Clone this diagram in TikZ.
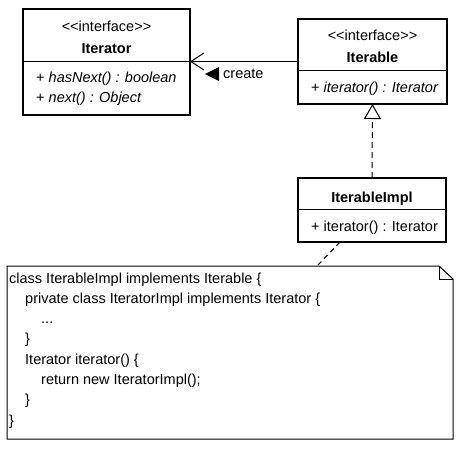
\documentclass[tikz,border=0pt]{standalone}
\usepackage{fontspec}
\setmainfont{Liberation Sans}
\usetikzlibrary{arrows.meta}
\begin{document}
\begin{tikzpicture}[x=1pt,y=-1pt,line join=miter,
	font=\fontsize{14.5}{17}\selectfont,
	classbox/.style={draw,line width=2pt,inner sep=0,outer sep=0},
	txt/.style={inner sep=0,anchor=base},
	member/.style={inner sep=0,anchor=base west},
	link/.style={line width=1pt}]
	\useasboundingbox (0,0) rectangle (460,451);
	% classes
	\node[classbox,minimum width=167pt,minimum height=106pt] (iterator) at (106.5,62) {};
	\draw[link] (iterator.west |- 0,61) -- (iterator.east |- 0,61);
	\node[txt] (iteratorst) at (106.5,31) {<\kern0pt<interface>\kern0pt>};
	\node[txt] (iteratorname) at (106.5,53) {\textbf{Iterator}};
	\node[member] (hasnext) at (36,82) {+ \textit{hasNext() : boolean}};
	\node[member] (next) at (36,102) {+ \textit{next() : Object}};
	\node[classbox,minimum width=149pt,minimum height=85pt] (iterable) at (372.5,61.5) {};
	\draw[link] (iterable.west |- 0,70) -- (iterable.east |- 0,70);
	\node[txt] (iterablest) at (372.5,40) {<\kern0pt<interface>\kern0pt>};
	\node[txt] (iterablename) at (372.5,62) {\textbf{Iterable}};
	\node[member] (iterablemeth) at (311,92) {+ \textit{iterator() : Iterator}};
	\node[classbox,minimum width=148pt,minimum height=64pt] (impl) at (372,210) {};
	\draw[link] (impl.west |- 0,209) -- (impl.east |- 0,209);
	\node[txt] (implname) at (372,202) {\textbf{IterableImpl}};
	\node[member] (implmeth) at (311,231) {+ iterator() : Iterator};
	% relations
	\draw[link,-{Straight Barb[length=13pt,width=17pt,line width=1pt]}] (iterable.west) -- (iterable.west -| iterator.east);
	\node[member,anchor=west] (createlbl) at (223,74) {create};
	\fill (createlbl.west) ++(-4,7) -- ++(0,-14) -- ++(-14,7) -- cycle;
	\draw[link,dash pattern=on 6pt off 4pt,-{Triangle[length=15pt,width=17pt,fill=white,line width=1pt]}] (impl.north) -- (iterable.south);
	% note
	\draw[link] (7,266) -- (439,266) -- (453,279) -- (453,439) -- (7,439) -- cycle;
	\draw[link] (439,266) -- (439,279) -- (453,279);
	\coordinate (notetop) at (317,266);
	\draw[link,dash pattern=on 5pt off 4pt] ([xshift=42pt]impl.south west) -- (notetop);
	\foreach \n/\ind/\codetxt in {1/0/{class IterableImpl implements Iterable \{},
		2/1/{private class IteratorImpl implements Iterator \{},3/2/{...},4/1/{\}},
		5/1/{Iterator iterator() \{},6/2/{return new IteratorImpl();},7/1/{\}},8/0/{\}}}
		\node[member] (code\n) at (9+16*\ind,262.7+20.3*\n) {\codetxt};
\end{tikzpicture}
\end{document}
